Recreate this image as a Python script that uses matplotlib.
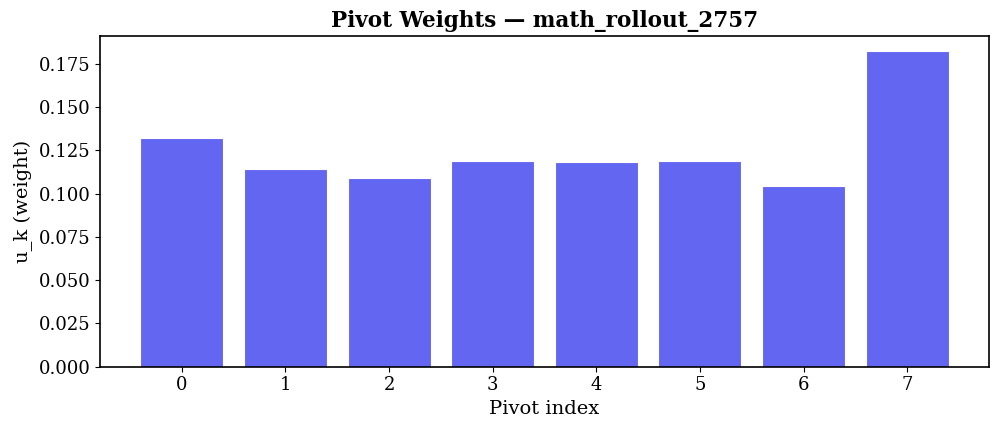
import matplotlib
matplotlib.use("Agg")
import matplotlib.pyplot as plt

plt.rcParams["font.family"] = "DejaVu Serif"

run_name = "math_rollout_2757"
pivot_index = [0, 1, 2, 3, 4, 5, 6, 7]
weights = [0.1322, 0.1143, 0.1088, 0.1186, 0.1180, 0.1188, 0.1042, 0.1821]

fig, ax = plt.subplots(figsize=(9.97, 4.33), dpi=100)
ax.bar(pivot_index, weights, color="#6366f1", edgecolor="white", linewidth=0.8)
ax.set_xticks(pivot_index)
ax.set_xlabel("Pivot index", fontsize=14)
ax.set_ylabel("u_k (weight)", fontsize=14)
ax.set_title(f"Pivot Weights \u2014 {run_name}", fontsize=15.5, fontweight="bold")
ax.tick_params(labelsize=13)
for s in ax.spines.values():
    s.set_linewidth(1.2)

fig.subplots_adjust(left=0.1003, right=0.992, top=0.9176, bottom=0.1531)
fig.savefig("out.png", dpi=100)
